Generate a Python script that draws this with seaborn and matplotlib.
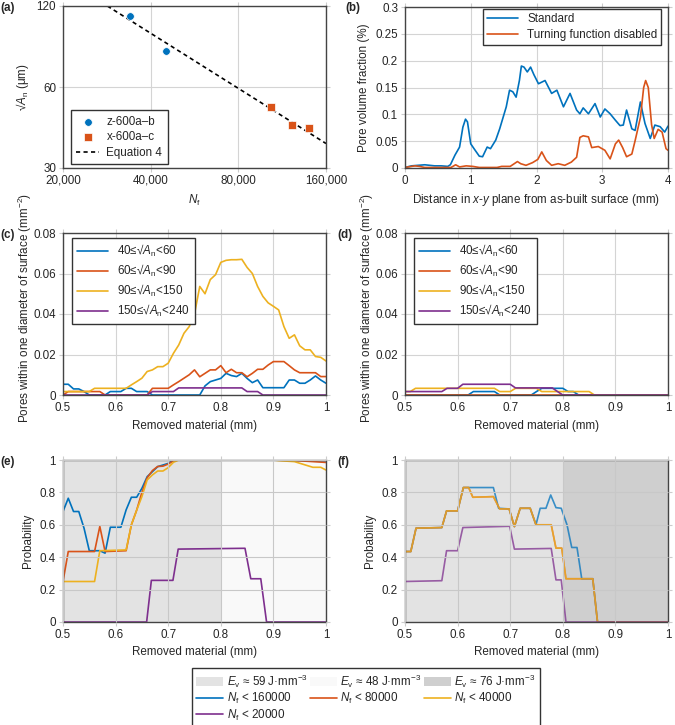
import numpy as np
import pandas as pd
import seaborn as sns
import matplotlib.pyplot as plt
from matplotlib.ticker import FixedLocator, FuncFormatter, NullLocator
from matplotlib.patches import Patch
from matplotlib.lines import Line2D

# ---- data ----
# (a) fatigue life vs pore size
z_nf = [33900, 45300]
z_sqrt_area = [110.3, 81.7]
x_nf = [103300, 122200, 140000]
x_sqrt_area = [50.7, 43.2, 42.1]
eq4_nf = [28400, 160000]
eq4_sqrt_area = [120, 37.0]

# (b) pore volume fraction vs distance
std_d = [0.0, 0.1, 0.2, 0.3, 0.45, 0.55, 0.65, 0.69, 0.76, 0.83, 0.88, 0.92, 0.95, 1.0, 1.05,
         1.13, 1.18, 1.25, 1.30, 1.38, 1.44, 1.54, 1.59, 1.64, 1.69, 1.74, 1.77, 1.81, 1.86,
         1.91, 1.96, 2.03, 2.13, 2.23, 2.31, 2.41, 2.51, 2.61, 2.66, 2.71, 2.79, 2.89, 2.97,
         3.04, 3.12, 3.20, 3.27, 3.32, 3.37, 3.45, 3.50, 3.58, 3.65, 3.73, 3.80, 3.88, 3.95, 4.0]
std_frac = [0.001, 0.004, 0.005, 0.006, 0.004, 0.004, 0.003, 0.006, 0.024, 0.039, 0.076, 0.091,
            0.086, 0.045, 0.036, 0.022, 0.021, 0.039, 0.036, 0.052, 0.073, 0.114, 0.145, 0.142,
            0.132, 0.163, 0.19, 0.188, 0.179, 0.188, 0.174, 0.157, 0.163, 0.139, 0.145, 0.114,
            0.139, 0.108, 0.101, 0.112, 0.101, 0.120, 0.095, 0.110, 0.101, 0.089, 0.079, 0.080,
            0.108, 0.073, 0.070, 0.123, 0.083, 0.055, 0.080, 0.077, 0.067, 0.078]
turn_d = [0.0, 0.15, 0.22, 0.3, 0.5, 0.7, 0.77, 0.83, 0.93, 1.03, 1.13, 1.4, 1.47, 1.6, 1.71,
          1.76, 1.84, 1.94, 2.02, 2.08, 2.15, 2.23, 2.33, 2.43, 2.53, 2.61, 2.66, 2.71, 2.79,
          2.84, 2.94, 3.04, 3.12, 3.20, 3.25, 3.31, 3.37, 3.45, 3.50, 3.58, 3.63, 3.66, 3.70,
          3.75, 3.79, 3.85, 3.91, 3.97, 4.0]
turn_frac = [0.001, 0.004, 0.003, 0.001, 0.001, 0.001, 0.006, 0.002, 0.004, 0.003, 0.001, 0.001,
             0.003, 0.003, 0.012, 0.008, 0.005, 0.010, 0.016, 0.030, 0.014, 0.005, 0.008, 0.005,
             0.011, 0.020, 0.057, 0.060, 0.058, 0.038, 0.040, 0.033, 0.017, 0.045, 0.052, 0.038,
             0.021, 0.026, 0.051, 0.094, 0.150, 0.163, 0.150, 0.081, 0.055, 0.072, 0.067, 0.036,
             0.033]

# (c), (d) pores near surface vs removed material, 0.50 .. 1.00 in 0.01 steps
removed = np.round(np.arange(0.50, 1.0001, 0.01), 2)
c_40_60 = [0.0053, 0.0053, 0.003, 0.003, 0.0017, 0, 0, 0, 0, 0.0017, 0.0017, 0.0017, 0.0033,
           0.0033, 0.0017, 0.0017, 0.0017, 0, 0, 0, 0, 0, 0, 0, 0, 0, 0.0, 0.0045, 0.0066,
           0.0074, 0.0082, 0.0107, 0.0096, 0.0091, 0.0107, 0.0082, 0.0061, 0.0074, 0.0036,
           0.0036, 0.0036, 0.0036, 0.0036, 0.0074, 0.0074, 0.0058, 0.0058, 0.0074, 0.0094,
           0.0074, 0.0058]
c_60_90 = [0, 0.0017, 0.0017, 0.0017, 0.0017, 0.0017, 0.0017, 0.0017, 0, 0, 0, 0, 0, 0, 0,
           0, 0, 0.0033, 0.0033, 0.0033, 0.0033, 0.005, 0.0066, 0.0083, 0.01, 0.0124, 0.009,
           0.0107, 0.0124, 0.0124, 0.0145, 0.011, 0.0127, 0.011, 0.011, 0.009, 0.0107, 0.0127,
           0.0127, 0.0148, 0.0165, 0.0165, 0.0165, 0.0145, 0.0124, 0.011, 0.011, 0.011, 0.011,
           0.0091, 0.0091]
c_90_150 = [0.0017, 0.0017, 0.0017, 0.0017, 0.0017, 0.0017, 0.0033, 0.0033, 0.0033, 0.0033,
            0.0033, 0.0033, 0.0033, 0.005, 0.0066, 0.0083, 0.0116, 0.0124, 0.014, 0.014,
            0.0157, 0.0206, 0.0247, 0.0305, 0.0338, 0.040, 0.0536, 0.050, 0.057, 0.0594,
            0.0655, 0.0665, 0.0668, 0.0668, 0.0670, 0.063, 0.060, 0.0536, 0.0487, 0.0455,
            0.0438, 0.042, 0.0338, 0.028, 0.0297, 0.0243, 0.0223, 0.0223, 0.019, 0.0186, 0.0168]
c_150_240 = [0] * 17 + [0.0017] * 5 + [0.0035] * 13 + [0.0017] * 3 + [0] * 13
d_40_60 = [0] * 13 + [0.0017] * 5 + [0] * 7 + [0.0017, 0.0033, 0.0033, 0.0033, 0.0033,
                                               0.0033, 0.0017, 0.0017] + [0] * 18
d_60_90 = [0] * 51
d_90_150 = [0.0017, 0.0017] + [0.0033] * 16 + [0.0017] * 3 + [0.0033] * 5 + [0.0017] * 10 + [0] * 15
d_150_240 = [0.0017] * 8 + [0.0033] * 3 + [0.0053] * 10 + [0.0035] * 8 + [0.0017] + [0] * 21

# (e), (f) probability vs removed material
e_160k_x = [0.50, 0.51, 0.52, 0.53, 0.54, 0.55, 0.56, 0.57, 0.58, 0.59, 0.61, 0.62, 0.63, 0.64,
            0.65, 0.66, 0.67, 0.68, 0.69, 0.70, 0.71, 0.90, 0.95, 1.00]
e_160k_p = [0.682, 0.764, 0.682, 0.682, 0.579, 0.44, 0.44, 0.44, 0.425, 0.585, 0.585, 0.692,
            0.77, 0.77, 0.825, 0.897, 0.928, 0.959, 0.969, 0.979, 1.0, 1.0, 0.997, 0.995]
e_80k_x = [0.50, 0.51, 0.56, 0.57, 0.58, 0.62, 0.63, 0.64, 0.65, 0.66, 0.67, 0.68, 0.69, 0.70,
           0.71, 0.72, 0.90, 0.95, 1.00]
e_80k_p = [0.25, 0.435, 0.435, 0.59, 0.435, 0.44, 0.60, 0.69, 0.80, 0.89, 0.935, 0.96, 0.962,
           0.975, 0.995, 1.0, 1.0, 0.995, 0.985]
e_40k_x = [0.50, 0.56, 0.57, 0.62, 0.63, 0.64, 0.65, 0.66, 0.67, 0.68, 0.69, 0.70, 0.71, 0.72,
           0.90, 0.91, 0.94, 0.96, 0.975, 0.99, 1.00]
e_40k_p = [0.25, 0.25, 0.44, 0.445, 0.60, 0.69, 0.774, 0.877, 0.908, 0.932, 0.932, 0.953,
           0.986, 1.0, 1.0, 0.996, 0.99, 0.97, 0.955, 0.955, 0.938]
e_20k_x = [0.50, 0.659, 0.668, 0.709, 0.719, 0.846, 0.857, 0.876, 0.887, 1.00]
e_20k_p = [0, 0, 0.257, 0.257, 0.45, 0.455, 0.267, 0.267, 0, 0]

f_40k_x = [0.50, 0.511, 0.521, 0.570, 0.579, 0.600, 0.611, 0.621, 0.629, 0.668, 0.680, 0.698,
           0.708, 0.719, 0.738, 0.749, 0.778, 0.787, 0.798, 0.806, 0.857, 0.866, 1.00]
f_40k_p = [0.435, 0.435, 0.579, 0.583, 0.686, 0.686, 0.83, 0.83, 0.77, 0.774, 0.698, 0.698,
           0.589, 0.702, 0.702, 0.60, 0.60, 0.456, 0.456, 0.267, 0.267, 0, 0]
f_80k_x = f_40k_x
f_80k_p = f_40k_p
f_160k_x = [0.50, 0.511, 0.521, 0.570, 0.579, 0.600, 0.611, 0.668, 0.678, 0.698, 0.708, 0.719,
            0.738, 0.749, 0.757, 0.768, 0.777, 0.787, 0.797, 0.808, 0.817, 0.827, 0.836, 0.857,
            0.866, 1.00]
f_160k_p = [0.435, 0.435, 0.579, 0.583, 0.686, 0.686, 0.83, 0.83, 0.702, 0.698, 0.589, 0.702,
            0.702, 0.60, 0.702, 0.702, 0.784, 0.706, 0.702, 0.60, 0.46, 0.46, 0.267, 0.267, 0, 0]
f_20k_x = [0.50, 0.570, 0.579, 0.600, 0.610, 0.699, 0.708, 0.778, 0.787, 0.797, 0.806, 1.00]
f_20k_p = [0.25, 0.255, 0.44, 0.44, 0.583, 0.591, 0.45, 0.454, 0.26, 0.26, 0, 0]

bin_labels = ['40≤√$A_\\mathrm{n}$<60', '60≤√$A_\\mathrm{n}$<90',
              '90≤√$A_\\mathrm{n}$<150', '150≤√$A_\\mathrm{n}$<240']
nf_labels = ['$N_\\mathrm{f}$ < 160000', '$N_\\mathrm{f}$ < 80000',
             '$N_\\mathrm{f}$ < 40000', '$N_\\mathrm{f}$ < 20000']
ev_labels = ['$E_\\mathrm{v}$ ≈ 59 J·mm$^{-3}$', '$E_\\mathrm{v}$ ≈ 48 J·mm$^{-3}$',
             '$E_\\mathrm{v}$ ≈ 76 J·mm$^{-3}$']

# ---- style ----
sns.set_style('white')
plt.rcParams['font.family'] = ['Liberation Sans', 'DejaVu Sans']
plt.rcParams['mathtext.fontset'] = 'custom'
plt.rcParams['mathtext.rm'] = 'Liberation Sans'
plt.rcParams['mathtext.it'] = 'Liberation Sans:italic'
plt.rcParams['legend.fancybox'] = False
plt.rcParams['legend.edgecolor'] = '#333333'
plt.rcParams['legend.framealpha'] = 1

cols = ['#0072BD', '#D95319', '#EDB120', '#7E2F8E']
shade = {'59': '#e3e3e3', '48': '#f9f9f9', '76': '#cfcfcf'}
FS = 8.4

fig = plt.figure(figsize=(6.75, 7.25), dpi=100)
W, H = 675, 725
def add_ax(x0, y0, x1, y1):
    return fig.add_axes([x0 / W, 1 - y1 / H, (x1 - x0) / W, (y1 - y0) / H])

def style(ax):
    ax.grid(True, color='#d4d4d4', lw=0.8)
    ax.set_axisbelow(True)
    for s in ax.spines.values():
        s.set_color('#444444')
        s.set_linewidth(1.0)
    ax.tick_params(which='both', direction='out', length=3, color='#cccccc', labelsize=FS,
                   left=True, right=True, top=True, bottom=True, pad=2)

ax_a = add_ax(63, 6, 326, 168)
ax_b = add_ax(405, 7, 668, 168)
ax_c = add_ax(63, 233, 326, 395)
ax_d = add_ax(405, 233, 668, 395)
ax_e = add_ax(63, 460, 326, 622)
ax_f = add_ax(405, 460, 668, 622)

# (a)
sns.scatterplot(x=z_nf, y=z_sqrt_area, ax=ax_a, color=cols[0], marker='o', s=30,
                edgecolor='white', linewidth=0.5, label='z-600a–b', zorder=3)
sns.scatterplot(x=x_nf, y=x_sqrt_area, ax=ax_a, color=cols[1], marker='s', s=30,
                edgecolor='white', linewidth=0.5, label='x-600a–c', zorder=3)
sns.lineplot(x=eq4_nf, y=eq4_sqrt_area, ax=ax_a, color='black', ls=(0, (2.5, 2)), lw=1.2,
             label='Equation 4', zorder=2)
ax_a.set_xscale('log')
ax_a.set_yscale('log')
ax_a.set_xlim(20000, 160000)
ax_a.set_ylim(30, 120)
ax_a.xaxis.set_major_locator(FixedLocator([20000, 40000, 80000, 160000]))
ax_a.xaxis.set_major_formatter(FuncFormatter(lambda v, p: f'{int(round(v)):,}'))
ax_a.xaxis.set_minor_locator(NullLocator())
ax_a.yaxis.set_major_locator(FixedLocator([30, 60, 120]))
ax_a.yaxis.set_major_formatter(FuncFormatter(lambda v, p: f'{int(round(v))}'))
ax_a.yaxis.set_minor_locator(NullLocator())
ax_a.set_xlabel('$N_\\mathrm{f}$', fontsize=FS)
ax_a.set_ylabel('√$A_\\mathrm{n}$ (μm)', fontsize=FS)
style(ax_a)
ax_a.legend(loc='lower left', bbox_to_anchor=(0.03, 0.025), fontsize=FS, borderpad=0.45,
            handlelength=2.0, labelspacing=0.3, handletextpad=0.6, borderaxespad=0)

# (b)
sns.lineplot(x=std_d, y=std_frac, ax=ax_b, color=cols[0], lw=1.2, label='Standard',
             estimator=None, sort=False)
sns.lineplot(x=turn_d, y=turn_frac, ax=ax_b, color=cols[1], lw=1.2,
             label='Turning function disabled', estimator=None, sort=False)
ax_b.set_xlim(0, 4)
ax_b.set_ylim(0, 0.3)
ax_b.set_xticks([0, 1, 2, 3, 4])
ax_b.set_yticks([0, 0.05, 0.1, 0.15, 0.2, 0.25, 0.3])
ax_b.set_yticklabels(['0', '0.05', '0.1', '0.15', '0.2', '0.25', '0.3'])
ax_b.set_xlabel('Distance in $x$-$y$ plane from as-built surface (mm)', fontsize=FS)
ax_b.set_ylabel('Pore volume fraction (%)', fontsize=FS)
style(ax_b)
ax_b.legend(loc='upper right', bbox_to_anchor=(0.975, 0.985), fontsize=FS, borderpad=0.35,
            handlelength=2.6, labelspacing=0.3, borderaxespad=0)

# (c), (d)
for ax, series in [(ax_c, [c_40_60, c_60_90, c_90_150, c_150_240]),
                   (ax_d, [d_40_60, d_60_90, d_90_150, d_150_240])]:
    for vals, col, lab in zip(series, cols, bin_labels):
        sns.lineplot(x=removed, y=vals, ax=ax, color=col, lw=1.2, label=lab, estimator=None)
    ax.set_xlim(0.5, 1)
    ax.set_ylim(0, 0.08)
    ax.set_xticks([0.5, 0.6, 0.7, 0.8, 0.9, 1])
    ax.set_xticklabels(['0.5', '0.6', '0.7', '0.8', '0.9', '1'])
    ax.set_yticks([0, 0.02, 0.04, 0.06, 0.08])
    ax.set_yticklabels(['0', '0.02', '0.04', '0.06', '0.08'])
    ax.set_xlabel('Removed material (mm)', fontsize=FS)
    ax.set_ylabel('Pores within one diameter of surface (mm$^{-2}$)', fontsize=FS)
    ax.yaxis.set_label_coords(-0.112, 0.54)
    style(ax)
    ax.legend(loc='upper left', bbox_to_anchor=(0.035, 0.97), fontsize=FS, borderpad=0.45,
              handlelength=2.6, labelspacing=0.32, borderaxespad=0)

# (e), (f)
ax_e.axvspan(0.5, 0.8, color=shade['59'], lw=0, zorder=0)
ax_e.axvspan(0.8, 1.0, color=shade['48'], lw=0, zorder=0)
ax_f.axvspan(0.5, 0.8, color=shade['59'], lw=0, zorder=0)
ax_f.axvspan(0.8, 1.0, color=shade['76'], lw=0, zorder=0)
for ax, series, alpha in [(ax_e, [(e_160k_x, e_160k_p), (e_80k_x, e_80k_p),
                                  (e_40k_x, e_40k_p), (e_20k_x, e_20k_p)], 1.0),
                          (ax_f, [(f_160k_x, f_160k_p), (f_80k_x, f_80k_p),
                                  (f_40k_x, f_40k_p), (f_20k_x, f_20k_p)], 0.75)]:
    for (xs, ps), col in zip(series, cols):
        sns.lineplot(x=xs, y=ps, ax=ax, color=col, lw=1.2, alpha=alpha,
                     estimator=None, sort=False)
    ax.set_xlim(0.5, 1)
    ax.set_ylim(0, 1)
    ax.set_xticks([0.5, 0.6, 0.7, 0.8, 0.9, 1])
    ax.set_xticklabels(['0.5', '0.6', '0.7', '0.8', '0.9', '1'])
    ax.set_yticks([0, 0.2, 0.4, 0.6, 0.8, 1])
    ax.set_yticklabels(['0', '0.2', '0.4', '0.6', '0.8', '1'])
    ax.set_xlabel('Removed material (mm)', fontsize=FS)
    ax.set_ylabel('Probability', fontsize=FS)
    style(ax)
    ax.grid(True, color='#c8c8c8', lw=0.8)
    ax.set_axisbelow(False)

# bottom legend, ordered to fill row by row
p59 = Patch(facecolor=shade['59'], edgecolor='none', label=ev_labels[0])
p48 = Patch(facecolor=shade['48'], edgecolor='none', label=ev_labels[1])
p76 = Patch(facecolor=shade['76'], edgecolor='none', label=ev_labels[2])
l160 = Line2D([], [], color=cols[0], lw=1.2, label=nf_labels[0])
l80 = Line2D([], [], color=cols[1], lw=1.2, label=nf_labels[1])
l40 = Line2D([], [], color=cols[2], lw=1.2, label=nf_labels[2])
l20 = Line2D([], [], color=cols[3], lw=1.2, label=nf_labels[3])
fig.legend(handles=[p59, l160, l20, p48, l80, p76, l40], ncol=3,
           loc='center', bbox_to_anchor=(366 / W, 1 - 697.5 / H), fontsize=FS,
           handlelength=2.3, handleheight=0.9, columnspacing=0.2, labelspacing=0.12,
           borderpad=0.35, handletextpad=0.3)

# panel labels
for lab, (px, py) in {'(a)': (0, 8), '(b)': (345, 8), '(c)': (0, 235), '(d)': (337, 235),
                      '(e)': (0, 462), '(f)': (337, 462)}.items():
    fig.text(px / W, 1 - py / H, lab, fontsize=FS, fontweight='bold', va='center', ha='left')

fig.savefig('out.png', dpi=100)
